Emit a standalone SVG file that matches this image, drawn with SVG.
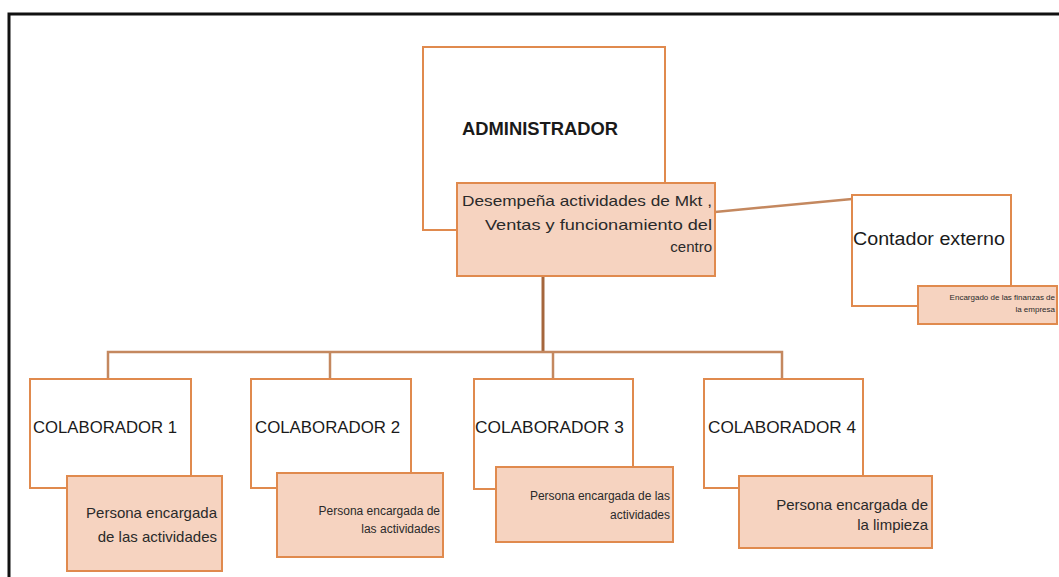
<svg xmlns="http://www.w3.org/2000/svg" width="1059" height="577" viewBox="0 0 1059 577">
<style>
.box{fill:#ffffff;stroke:#E08A4E;stroke-width:2}
.desc{fill:#F6D3C0;stroke:#E08A4E;stroke-width:2}
.conn{fill:none;stroke:#C4885F;stroke-width:2.5}
.main{fill:none;stroke:#A5663C;stroke-width:3}
.t{font-family:"Liberation Sans",Arial,sans-serif;fill:#1a1a1a}
.title{font-size:17px}
.d{font-size:15px;fill:#2a2a2a}
.ds{font-size:12px;fill:#2a2a2a}
.dt{font-size:8px;fill:#2a2a2a}
</style>
<rect width="1059" height="577" fill="#ffffff"/>
<path d="M9,577 V14 H1059" fill="none" stroke="#111111" stroke-width="3"/>
<g id="connectors">
<path class="main" d="M543,276 V352"/>
<path class="conn" d="M108,379 V352 H782 V379"/>
<path class="conn" d="M330,352 V379"/>
<path class="conn" d="M553,352 V379"/>
<path class="conn" d="M715,212 L852,199"/>
</g>
<g id="administrador">
<rect class="box" x="423" y="47" width="242" height="183"/>
<text class="t" x="462" y="135" font-size="18" font-weight="bold" textLength="156" lengthAdjust="spacingAndGlyphs">ADMINISTRADOR</text>
<rect class="desc" x="457" y="183" width="258" height="93"/>
<text class="t d" text-anchor="end"><tspan x="712" y="206" textLength="250" lengthAdjust="spacingAndGlyphs">Desempeña actividades de Mkt ,</tspan><tspan x="712" y="230" textLength="227" lengthAdjust="spacingAndGlyphs">Ventas y funcionamiento del</tspan><tspan x="712" y="252">centro</tspan></text>
</g>
<g id="contador">
<rect class="box" x="852" y="195" width="159" height="111"/>
<text class="t" x="853" y="245" font-size="18" textLength="152" lengthAdjust="spacingAndGlyphs">Contador externo</text>
<rect class="desc" x="918" y="286" width="139" height="38"/>
<text class="t dt" text-anchor="end"><tspan x="1055" y="300">Encargado de las finanzas de</tspan><tspan x="1055" y="312">la empresa</tspan></text>
</g>
<g id="colaborador1">
<rect class="box" x="30" y="379" width="161" height="109"/>
<text class="t title" x="33" y="433" textLength="144" lengthAdjust="spacingAndGlyphs">COLABORADOR 1</text>
<rect class="desc" x="67" y="476" width="155" height="95"/>
<text class="t d" text-anchor="end"><tspan x="217" y="518">Persona encargada</tspan><tspan x="217" y="542">de las actividades</tspan></text>
</g>
<g id="colaborador2">
<rect class="box" x="251" y="379" width="160" height="109"/>
<text class="t title" x="255" y="433" textLength="145" lengthAdjust="spacingAndGlyphs">COLABORADOR 2</text>
<rect class="desc" x="277" y="473" width="166" height="84"/>
<text class="t ds" text-anchor="end"><tspan x="440" y="515">Persona encargada de</tspan><tspan x="440" y="533">las actividades</tspan></text>
</g>
<g id="colaborador3">
<rect class="box" x="474" y="379" width="159" height="110"/>
<text class="t title" x="475" y="433" textLength="149" lengthAdjust="spacingAndGlyphs">COLABORADOR 3</text>
<rect class="desc" x="496" y="467" width="177" height="75"/>
<text class="t ds" text-anchor="end"><tspan x="670" y="500">Persona encargada de las</tspan><tspan x="670" y="519">actividades</tspan></text>
</g>
<g id="colaborador4">
<rect class="box" x="704" y="379" width="159" height="109"/>
<text class="t title" x="708" y="433" textLength="148" lengthAdjust="spacingAndGlyphs">COLABORADOR 4</text>
<rect class="desc" x="739" y="476" width="193" height="72"/>
<text class="t d" text-anchor="end"><tspan x="928" y="510">Persona encargada de</tspan><tspan x="928" y="530">la limpieza</tspan></text>
</g>
</svg>
